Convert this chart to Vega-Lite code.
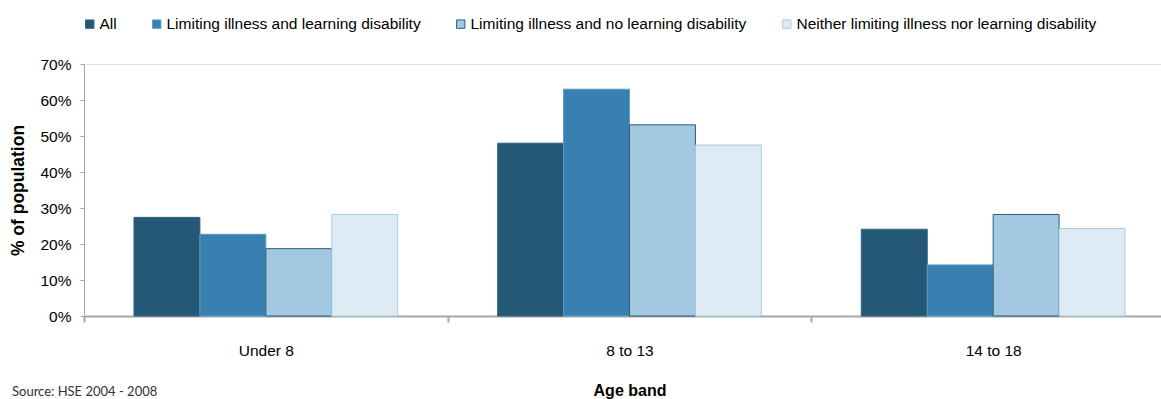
{
  "$schema": "https://vega.github.io/schema/vega-lite/v6.json",
  "autosize": "none",
  "padding": {"left": 84, "top": 64, "right": 0, "bottom": 83},
  "width": 1091,
  "height": 252,
  "background": "white",
  "title": {
    "text": "Source: HSE 2004 - 2008",
    "orient": "bottom",
    "anchor": "start",
    "frame": "group",
    "dx": -72,
    "offset": -13,
    "font": "Lato",
    "fontSize": 13,
    "fontWeight": "normal",
    "color": "#333333"
  },
  "data": {
    "values": [
      {"age": "Under 8", "group": "All", "value": 0.274},
      {"age": "Under 8", "group": "Limiting illness and learning disability", "value": 0.227},
      {"age": "Under 8", "group": "Limiting illness and no learning disability", "value": 0.187},
      {"age": "Under 8", "group": "Neither limiting illness nor learning disability", "value": 0.282},
      {"age": "8 to 13", "group": "All", "value": 0.480},
      {"age": "8 to 13", "group": "Limiting illness and learning disability", "value": 0.630},
      {"age": "8 to 13", "group": "Limiting illness and no learning disability", "value": 0.531},
      {"age": "8 to 13", "group": "Neither limiting illness nor learning disability", "value": 0.475},
      {"age": "14 to 18", "group": "All", "value": 0.241},
      {"age": "14 to 18", "group": "Limiting illness and learning disability", "value": 0.142},
      {"age": "14 to 18", "group": "Limiting illness and no learning disability", "value": 0.282},
      {"age": "14 to 18", "group": "Neither limiting illness nor learning disability", "value": 0.243}
    ]
  },
  "mark": {"type": "bar", "strokeWidth": 1},
  "encoding": {
    "x": {
      "field": "age",
      "type": "nominal",
      "sort": ["Under 8", "8 to 13", "14 to 18"],
      "scale": {"paddingInner": 0, "paddingOuter": 0},
      "axis": {
        "title": "Age band",
        "titleFont": "Liberation Sans",
        "titleFontSize": 16,
        "titleFontWeight": "bold",
        "titleColor": "#000000",
        "titlePadding": 24,
        "labelFont": "Liberation Sans",
        "labelFontSize": 15.5,
        "labelColor": "#000000",
        "labelPadding": 21,
        "labelAngle": 0,
        "tickBand": "extent",
        "tickSize": 6,
        "tickColor": "#a6a6a6",
        "tickWidth": 2,
        "domainColor": "#a6a6a6",
        "domainWidth": 2
      }
    },
    "xOffset": {
      "field": "group",
      "type": "nominal",
      "sort": [
        "All",
        "Limiting illness and learning disability",
        "Limiting illness and no learning disability",
        "Neither limiting illness nor learning disability"
      ],
      "scale": {"paddingInner": 0, "paddingOuter": 0.758}
    },
    "y": {
      "field": "value",
      "type": "quantitative",
      "scale": {"domain": [0, 0.7], "nice": false},
      "axis": {
        "title": "% of population",
        "titleFont": "Liberation Sans",
        "titleFontSize": 17.5,
        "titleFontWeight": "bold",
        "titleColor": "#000000",
        "titlePadding": 12,
        "values": [0, 0.1, 0.2, 0.3, 0.4, 0.5, 0.6, 0.7],
        "format": ".0%",
        "labelFont": "Liberation Sans",
        "labelFontSize": 15.5,
        "labelColor": "#000000",
        "labelPadding": 9,
        "tickSize": 4,
        "tickColor": "#a6a6a6",
        "domainColor": "#a6a6a6",
        "grid": false
      }
    },
    "color": {
      "field": "group",
      "type": "nominal",
      "sort": [
        "All",
        "Limiting illness and learning disability",
        "Limiting illness and no learning disability",
        "Neither limiting illness nor learning disability"
      ],
      "scale": {
        "domain": [
          "All",
          "Limiting illness and learning disability",
          "Limiting illness and no learning disability",
          "Neither limiting illness nor learning disability"
        ],
        "range": ["#245876", "#3880b0", "#a3c9e2", "#deeaf4"]
      },
      "legend": {
        "title": null,
        "orient": "none",
        "direction": "horizontal",
        "legendX": -2,
        "legendY": -48,
        "symbolType": "square",
        "symbolSize": 70,
        "symbolStrokeWidth": 1,
        "labelFont": "Liberation Sans",
        "labelFontSize": 15.5,
        "labelColor": "#000000",
        "labelOffset": 2,
        "labelLimit": 400,
        "columnPadding": 32
      }
    },
    "stroke": {
      "field": "group",
      "type": "nominal",
      "scale": {
        "domain": [
          "All",
          "Limiting illness and learning disability",
          "Limiting illness and no learning disability",
          "Neither limiting illness nor learning disability"
        ],
        "range": ["#2f6485", "#5c9cc9", "#2a5c7c", "#a8cde6"]
      },
      "legend": null
    }
  }
}
